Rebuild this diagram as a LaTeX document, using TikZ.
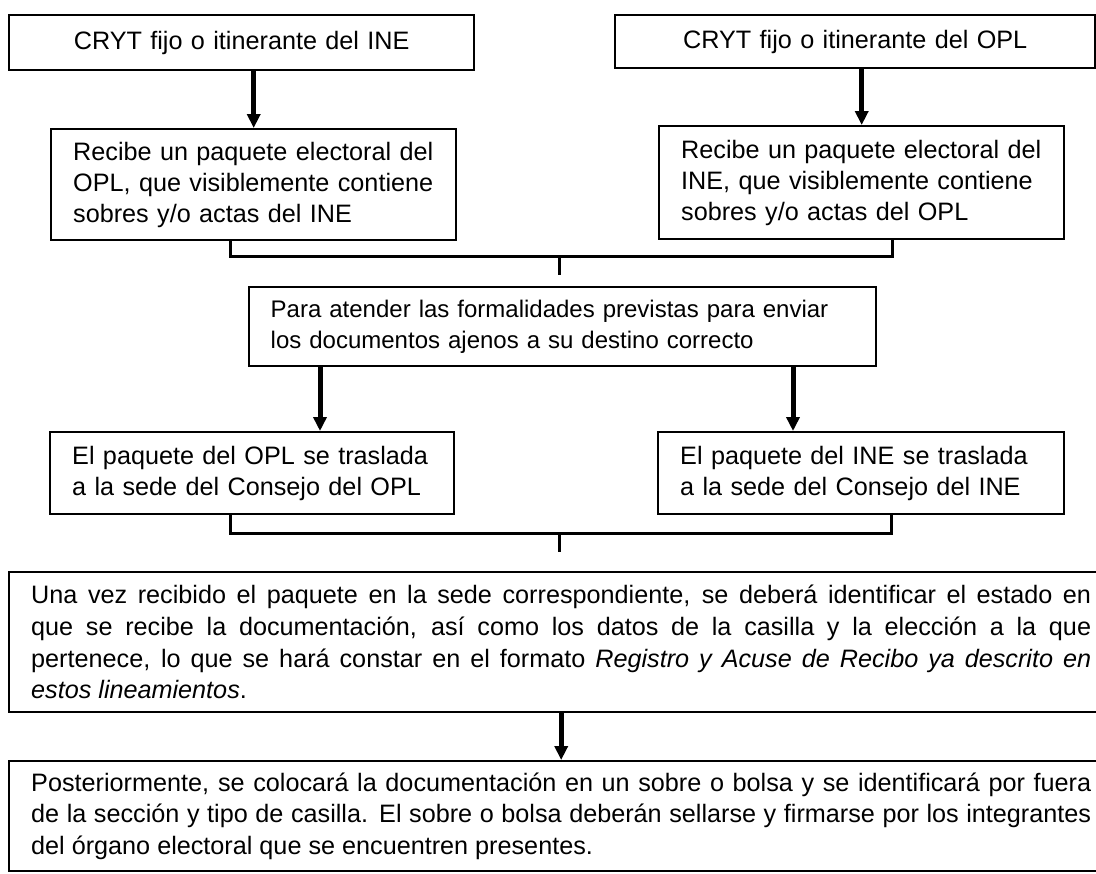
\documentclass[tikz,border=0pt]{standalone}
\usepackage{fontspec}
\setmainfont{Liberation Sans}
\usetikzlibrary{arrows.meta}

\begin{document}
\begin{tikzpicture}
[
    x=0.5pt, y=-0.5pt,
    caja/.style={draw, line width=1.2pt, anchor=north west, inner xsep=11pt,
        font=\fontsize{12.6}{15.5}\selectfont},
    cajagrande/.style={caja, align=justify, text width=530pt, minimum width=552pt,
        font=\fontsize{12.6}{15.8}\selectfont},
    flecha/.style={line width=2.5pt, -{Triangle[length=7pt, width=6.5pt]}},
    corchete/.style={line width=1.5pt},
]
\useasboundingbox (0,0) rectangle (1096,873);

\node [caja, align=center, text width=210.5pt, minimum width=232.5pt, minimum height=27.5pt]
    (cytIne) at (8,14) {CRYT fijo o itinerante del INE};
\node [caja, align=center, text width=218pt, minimum width=240pt, minimum height=26.5pt]
    (cytOpl) at (614,14) {CRYT fijo o itinerante del OPL};

\node [caja, align=left, text width=180.5pt, minimum width=202.5pt, minimum height=55.5pt]
    (recIne) at (50,128) {Recibe un paquete electoral del\\ OPL, que visiblemente contiene\\ sobres y/o actas del INE};
\node [caja, align=left, text width=180.5pt, minimum width=202.5pt, minimum height=56.5pt]
    (recOpl) at (658,125) {Recibe un paquete electoral del\\ INE, que visiblemente contiene\\ sobres y/o actas del OPL};

\node [caja, align=left, inner xsep=10.5pt, text width=292pt, minimum width=313.5pt, minimum height=39.5pt,
    font=\fontsize{12}{15.5}\selectfont]
    (atender) at (248,286) {Para atender las formalidades previstas para enviar\\ los documentos ajenos a su destino correcto};

\node [caja, align=left, text width=180pt, minimum width=202pt, minimum height=41pt]
    (trasOpl) at (49,431) {El paquete del OPL se traslada\\ a la sede del Consejo del OPL};
\node [caja, align=left, text width=181pt, minimum width=203pt, minimum height=41pt]
    (trasIne) at (657,431) {El paquete del INE se traslada\\ a la sede del Consejo del INE};

\node [cajagrande, minimum height=70pt] (registro) at (8,571)
    {Una vez recibido el paquete en la sede correspondiente, se deberá identificar el estado en\linebreak
     que se recibe la documentación, así como los datos de la casilla y la elección a la que\linebreak
     pertenece, lo que se hará constar en el formato \textit{Registro y Acuse de Recibo ya descrito en}\linebreak
     \textit{estos lineamientos}.};
\node [cajagrande, minimum height=55pt] (sobre) at (8,760)
    {Posteriormente, se colocará la documentación en un sobre o bolsa y se identificará por fuera\linebreak
     de la sección y tipo de casilla. El sobre o bolsa deberán sellarse y firmarse por los integrantes\linebreak
     del órgano electoral que se encuentren presentes.};

% flechas de arriba
\draw [flecha] (recIne.north |- cytIne.south) -- (recIne.north);
\draw [flecha] (recOpl.north |- cytOpl.south) -- (recOpl.north);

% primer corchete
\coordinate (union1) at (559,256);
\coordinate (punta1) at (559,275);
\draw [corchete] ([xshift=90pt]recIne.south west) |- (union1) -| ([xshift=117pt]recOpl.south west);
\draw [corchete] (union1) -- (punta1);

% salidas de atender
\coordinate (salidaOpl) at ([xshift=36pt]atender.south west);
\coordinate (salidaIne) at ([xshift=272.5pt]atender.south west);
\draw [flecha] (salidaOpl) -- (salidaOpl |- trasOpl.north);
\draw [flecha] (salidaIne) -- (salidaIne |- trasIne.north);

% segundo corchete
\coordinate (union2) at (559,533);
\coordinate (punta2) at (559,552);
\draw [corchete] ([xshift=90.5pt]trasOpl.south west) |- (union2) -| ([xshift=117pt]trasIne.south west);
\draw [corchete] (union2) -- (punta2);

\draw [flecha] (registro.south) -- (sobre.north);
\end{tikzpicture}
\end{document}
